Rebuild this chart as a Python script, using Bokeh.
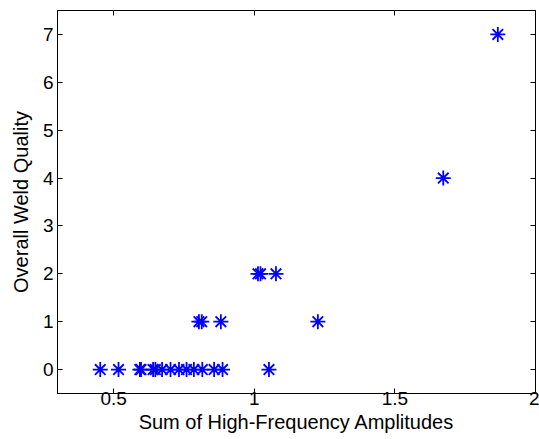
from bokeh.plotting import figure
from bokeh.models import LinearAxis, Range1d, FixedTicker, CustomJSTickFormatter
from bokeh.embed import file_html
from bokeh.resources import INLINE

# Data
amplitude = [0.452, 0.517, 0.593, 0.597, 0.640, 0.648, 0.672, 0.702, 0.732,
             0.759, 0.785, 0.815, 0.857, 0.887, 1.052,
             0.803, 0.813, 0.881, 1.226,
             1.013, 1.022, 1.077,
             1.672,
             1.866]
quality = [0, 0, 0, 0, 0, 0, 0, 0, 0,
           0, 0, 0, 0, 0, 0,
           1, 1, 1, 1,
           2, 2, 2,
           4,
           7]

x_ticks = [0.5, 1, 1.5, 2]
y_ticks = [0, 1, 2, 3, 4, 5, 6, 7]
x_label = "Sum of High-Frequency Amplitudes"
y_label = "Overall Weld Quality"

FONT = "Liberation Sans"

p = figure(width=539, height=439,
           x_range=Range1d(0.3, 2.0), y_range=Range1d(-0.5, 7.5),
           output_backend="svg", toolbar_location=None,
           min_border_left=57, min_border_right=4,
           min_border_top=10, min_border_bottom=46)

p.xgrid.visible = False
p.ygrid.visible = False
p.outline_line_color = "black"
p.outline_line_width = 1
p.background_fill_color = "white"
p.border_fill_color = "white"

p.scatter(amplitude, quality, marker="asterisk", size=15,
          line_color="#0000ff", line_width=1.8)

def style(ax, ticks, labels=True):
    ax.ticker = FixedTicker(ticks=ticks)
    ax.minor_tick_line_color = None
    ax.major_tick_in = 5
    ax.major_tick_out = 0
    ax.axis_line_color = "black"
    ax.major_tick_line_color = "black"
    ax.major_label_text_color = "black"
    ax.major_label_text_font = FONT
    if labels:
        ax.major_label_text_font_size = "19px"
        ax.major_label_standoff = 0
    else:
        ax.formatter = CustomJSTickFormatter(code="return ''")
        ax.major_label_standoff = 0

style(p.xaxis[0], x_ticks)
style(p.yaxis[0], y_ticks)
p.xaxis[0].major_label_standoff = -2
p.yaxis[0].major_label_standoff = 4

p.xaxis.axis_label = x_label
p.yaxis.axis_label = y_label
for ax in (p.xaxis[0], p.yaxis[0]):
    ax.axis_label_text_font = FONT
    ax.axis_label_text_font_size = "20px"
    ax.axis_label_text_font_style = "normal"
    ax.axis_label_text_color = "black"
p.xaxis[0].axis_label_standoff = 3
p.yaxis[0].axis_label_standoff = 8

top = LinearAxis()
style(top, x_ticks, labels=False)
p.add_layout(top, "above")
right = LinearAxis()
style(right, y_ticks, labels=False)
p.add_layout(right, "right")

open("out.html", "w").write(file_html(p, INLINE))
